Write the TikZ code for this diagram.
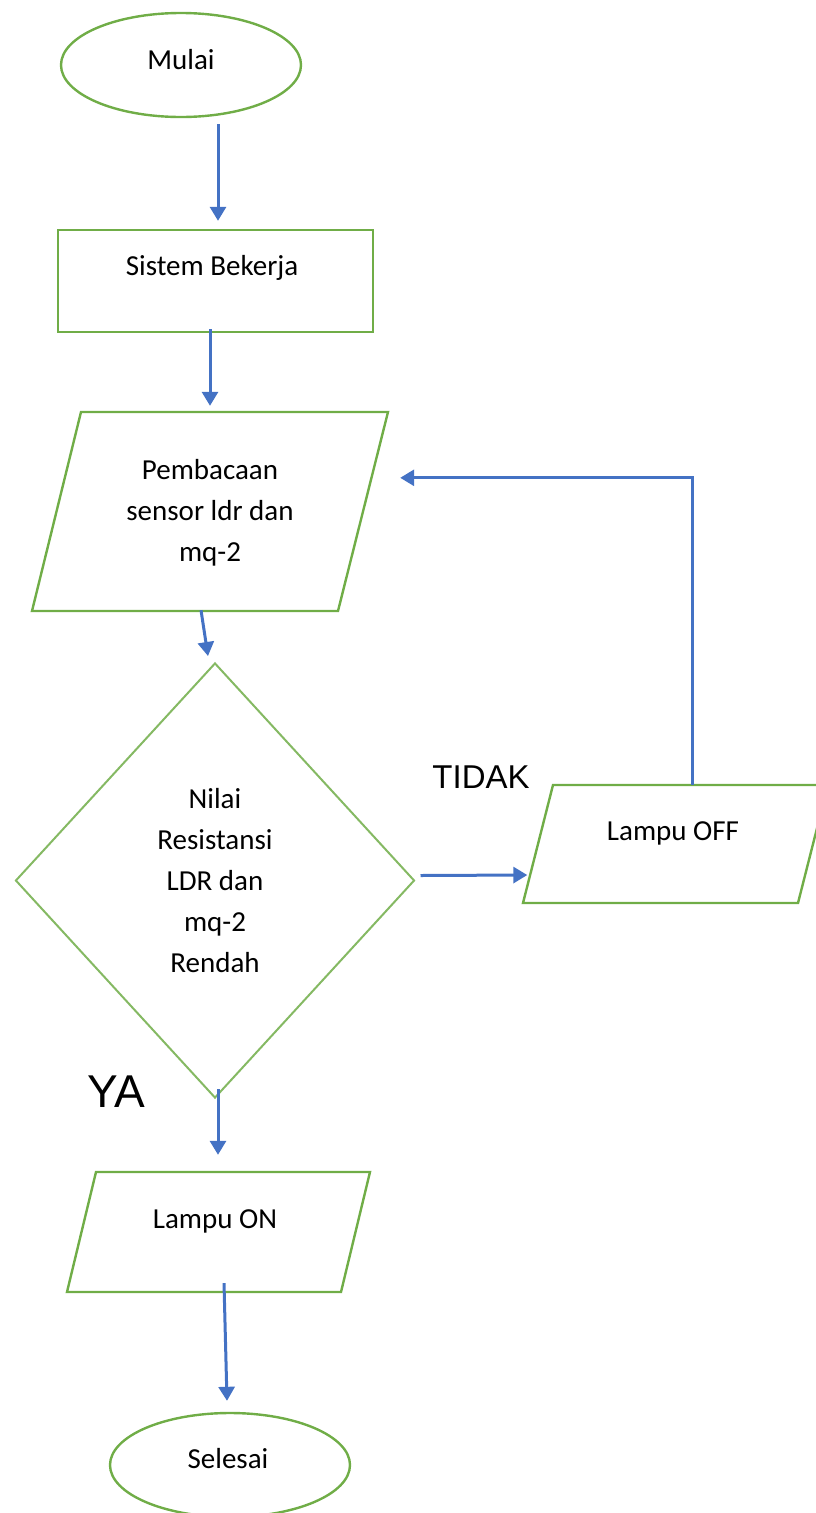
\documentclass[tikz,border=0pt]{standalone}
\usepackage{fontspec}
\setmainfont{Carlito}
\newfontfamily\labfont{Liberation Sans}
\usetikzlibrary{shapes.geometric,arrows.meta,calc}
\definecolor{flgreen}{HTML}{70AD47}
\definecolor{flblue}{HTML}{4472C4}
\begin{document}
\begin{tikzpicture}[x=1pt,y=-1pt,
  shapeline/.style={draw=flgreen,line width=2.4pt,line join=miter},
  terminal/.style={shapeline,ellipse,inner sep=0pt,minimum width=240pt,minimum height=104pt},
  holder/.style={inner sep=0pt,draw=none},
  body/.style={font=\fontsize{29pt}{41pt}\selectfont,align=center,inner sep=0pt},
  bigtag/.style={font=\labfont,inner sep=0pt,anchor=base},
  arr/.style={draw=flblue,line width=3pt,-{Triangle[width=16pt,length=14pt]}}]
\useasboundingbox (0,0) rectangle (815,1513);
% --- shapes
\node[terminal] (mulai) at (181,65) {};
\node[body,anchor=base] (mulait) at (181,69) {Mulai};
\node[holder,shapeline,minimum width=315pt,minimum height=102pt] (sistem) at (215.5,281) {};
\node[body,anchor=base] (sistemt) at (212,275) {Sistem Bekerja};
\draw[shapeline] (81,412) -- (388,412) -- (338,611) -- (32,611) -- cycle;
\node[holder,minimum width=307pt,minimum height=199pt] (baca) at (210,511.5) {};
\node[body] (bacat) at (210,513) {Pembacaan\\sensor ldr dan\\mq-2};
\node[shapeline,diamond,inner sep=0pt,minimum width=399pt,minimum height=435pt,line width=2pt,draw=flgreen!85] (cek) at (215,880.5) {};
\node[body] (cekt) at (215,881) {Nilai\\Resistansi\\LDR dan\\mq-2\\Rendah};
\draw[shapeline] (553,785) -- (828,785) -- (798,903) -- (523,903) -- cycle;
\node[holder,minimum width=275pt,minimum height=118pt] (off) at (675.5,844) {};
\node[body,anchor=base] (offt) at (673,840) {Lampu OFF};
\draw[shapeline] (96,1172) -- (370,1172) -- (341,1292) -- (67,1292) -- cycle;
\node[holder,minimum width=274pt,minimum height=120pt] (on) at (218.5,1232) {};
\node[body,anchor=base] (ont) at (215,1228) {Lampu ON};
\node[terminal] (selesai) at (230,1465) {};
\node[body,anchor=base] (selesait) at (228,1468) {Selesai};
% --- labels
\node[bigtag,font=\labfont\fontsize{33pt}{38pt}\selectfont] (tidak) at (481,788) {TIDAK};
\node[bigtag,font=\labfont\fontsize{46pt}{52pt}\selectfont] (ya) at (116,1107) {YA};
% --- connectors
\draw[arr] ($(mulai.south)+(37,6)$) -- ($(sistem.north)+(2.5,-8)$);
\draw[arr] ($(sistem.south)+(-5.5,-4)$) -- ($(baca.north)+(0,-6)$);
\draw[arr] ($(baca.south)+(-9,-1)$) -- ($(cek.north)+(-7,-6)$);
\draw[arr] ($(cek.east)+(5,-5)$) -- ($(off.west)+(-10.5,31)$);
\draw[arr] ($(off.north)+(16.5,0)$) |- ($(baca.north east)+(36.5,66)$);
\draw[arr] ($(cek.south)+(3,-10)$) -- ($(on.north)+(-0.5,-17)$);
\draw[arr] ($(on.south)+(5.5,-9)$) -- ($(selesai.north)+(-3,-11)$);
\end{tikzpicture}
\end{document}
